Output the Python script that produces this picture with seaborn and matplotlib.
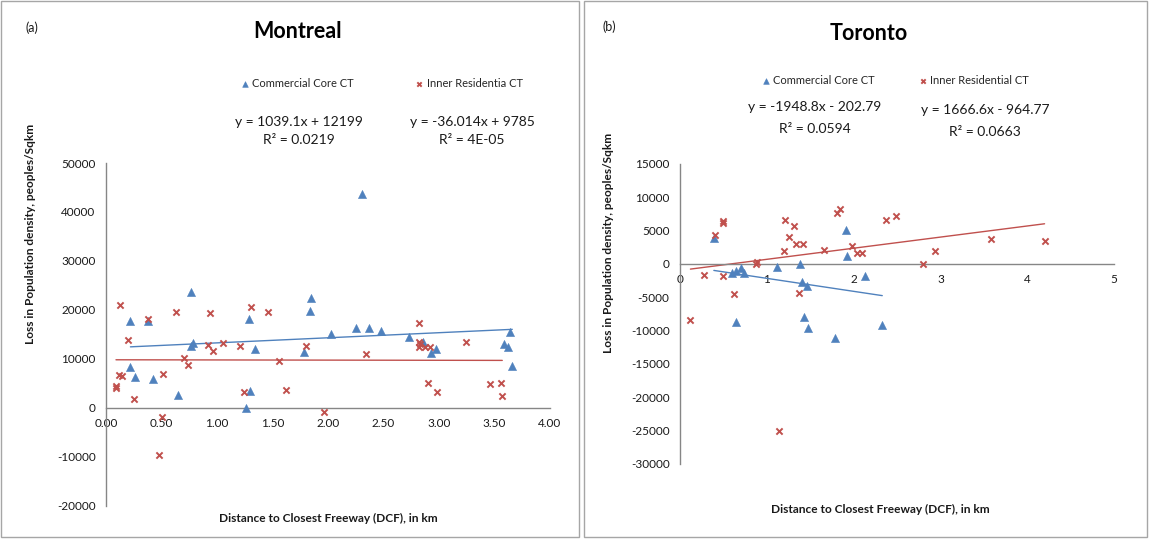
import numpy as np
import pandas as pd
import matplotlib
matplotlib.use("Agg")
import matplotlib.pyplot as plt
import seaborn as sns
from matplotlib.patches import Rectangle

# ---- Montreal: distance to closest freeway (km) vs loss in population density
mtl_cc_x = [0.22, 0.38, 0.77, 0.78, 0.77, 0.22, 0.26, 0.42, 0.65, 1.26, 1.30, 1.29, 1.34,
            1.85, 1.84, 2.03, 2.25, 2.37, 2.48, 1.78, 2.31, 2.73, 2.86, 2.93, 2.97,
            3.64, 3.59, 3.62, 3.66]
mtl_cc_y = [17700, 17700, 23600, 13300, 12700, 8400, 6300, 5900, 2600, 0, 3400, 18100, 12000,
            22400, 19800, 15100, 16200, 16200, 15600, 11400, 43700, 14500, 13400, 11200, 12000,
            15400, 13100, 12300, 8500]
mtl_ir_x = [0.13, 0.38, 0.63, 0.94, 0.20, 0.92, 0.96, 1.05, 1.21, 0.70, 0.74, 0.12, 0.14,
            0.51, 0.09, 0.09, 0.25, 0.50, 0.48, 1.24, 1.31, 1.46, 1.80, 2.34, 1.56, 1.62,
            1.96, 2.82, 2.82, 2.83, 2.82, 2.87, 2.92, 3.24, 2.90, 2.98, 3.46, 3.56, 3.57]
mtl_ir_y = [20900, 18200, 19600, 19400, 13800, 12900, 11500, 13300, 12600, 10100, 8800, 6700, 6500,
            6900, 4400, 4100, 1800, -2000, -9600, 3200, 20500, 19500, 12500, 10900, 9600, 3600,
            -900, 17300, 13400, 13000, 12300, 12400, 12300, 13400, 5100, 3200, 4800, 5100, 2400]

# ---- Toronto
tor_cc_x = [0.39, 0.60, 0.65, 0.70, 0.74, 1.12, 1.38, 1.41, 1.46, 1.91, 1.92, 2.13,
            0.64, 1.43, 1.48, 1.78, 2.33]
tor_cc_y = [3850, -1300, -1000, -600, -1300, -400, 0, -2700, -3350, 5050, 1150, -1850,
            -8750, -7900, -9600, -11150, -9100]
tor_ir_x = [0.40, 0.50, 0.50, 0.28, 0.49, 0.62, 0.12, 0.88, 0.89, 1.21, 1.31, 1.26, 1.20,
            1.34, 1.42, 1.37, 1.66, 1.81, 1.84, 1.98, 2.04, 2.10, 1.14, 2.37, 2.49, 2.80,
            2.94, 3.58, 4.20]
tor_ir_y = [4400, 6450, 6150, -1650, -1800, -4500, -8450, -50, 350, 6550, 5700, 4000, 1950,
            3000, 3000, -4350, 2150, 7700, 8250, 2650, 1700, 1700, -25100, 6650, 7200, 50,
            2000, 3700, 3500]

# linear trendline coefficients (slope, intercept) and R²
mtl_cc_fit = (1039.1, 12199, "0.0219")
mtl_ir_fit = (-36.014, 9785, "4E-05")
tor_cc_fit = (-1948.8, -202.79, "0.0594")
tor_ir_fit = (1666.6, -964.77, "0.0663")

mtl_ticks_x = [0, 0.5, 1, 1.5, 2, 2.5, 3, 3.5, 4]
mtl_ticks_y = [-20000, -10000, 0, 10000, 20000, 30000, 40000, 50000]
tor_ticks_x = [0, 1, 2, 3, 4, 5]
tor_ticks_y = [-30000, -25000, -20000, -15000, -10000, -5000, 0, 5000, 10000, 15000]

sns.set_style("white")
plt.rcParams['font.family'] = ['Lato', 'DejaVu Sans']

BLUE = '#4F81BD'
RED = '#C0504D'
AXC = '#868686'
TXT = '#1a1a1a'

W, H = 1149, 539
fig = plt.figure(figsize=(W / 100, H / 100), dpi=100)


def fx(px):
    return px / W


def fy(py):
    return 1 - py / H


# panel frames
for x0, x1 in [(1, 579), (584, 1147)]:
    fig.add_artist(Rectangle((fx(x0), fy(537)), fx(x1) - fx(x0), fy(1) - fy(537),
                             transform=fig.transFigure, fill=False,
                             edgecolor='#A6A6A6', linewidth=1.0))

ax1 = fig.add_axes([fx(106), fy(505.5), fx(550) - fx(106), fy(163) - fy(505.5)])
ax2 = fig.add_axes([fx(680), fy(464), fx(1114) - fx(680), fy(164) - fy(464)])


def draw_panel(ax, cc_x, cc_y, ir_x, ir_y, cc_fit, ir_fit, ir_label):
    sns.scatterplot(x=cc_x, y=cc_y, ax=ax, marker='^', color=BLUE, s=34,
                    edgecolor=BLUE, linewidth=0.4, label='Commercial Core CT', zorder=3)
    sns.scatterplot(x=ir_x, y=ir_y, ax=ax, marker='x', color=RED, s=20,
                    linewidth=1.4, label=ir_label, zorder=3)
    for xs, fit, col in [(cc_x, cc_fit, BLUE), (ir_x, ir_fit, RED)]:
        xr = np.array([min(xs), max(xs)])
        ax.plot(xr, fit[0] * xr + fit[1], color=col, linewidth=1.0, zorder=2)


def style_axes(ax, xlim, ylim, xticks, yticks, xfmt):
    ax.set_xlim(xlim)
    ax.set_ylim(ylim)
    ax.spines['top'].set_visible(False)
    ax.spines['right'].set_visible(False)
    ax.spines['left'].set_position(('data', 0))
    ax.spines['bottom'].set_position(('data', 0))
    for s in ('left', 'bottom'):
        ax.spines[s].set_color(AXC)
        ax.spines[s].set_linewidth(1.0)
    ax.set_xticks(xticks)
    ax.set_yticks(yticks)
    ax.set_xticklabels([xfmt(v) for v in xticks])
    ax.set_yticklabels([str(v) for v in yticks])
    ax.tick_params(axis='both', colors=AXC, labelcolor=TXT, labelsize=8.5,
                   length=4, width=1, direction='out')
    ax.set_xlabel('')
    ax.set_ylabel('')
    ax.patch.set_alpha(0)


draw_panel(ax1, mtl_cc_x, mtl_cc_y, mtl_ir_x, mtl_ir_y, mtl_cc_fit, mtl_ir_fit,
           'Inner Residentia CT')
draw_panel(ax2, tor_cc_x, tor_cc_y, tor_ir_x, tor_ir_y, tor_cc_fit, tor_ir_fit,
           'Inner Residential CT')

style_axes(ax1, (0, 4), (-20000, 50000), mtl_ticks_x, mtl_ticks_y, lambda v: f"{v:.2f}")
style_axes(ax2, (0, 5), (-30000, 15000), tor_ticks_x, tor_ticks_y, lambda v: f"{v:g}")

# legends
ax1.legend(loc='center', bbox_to_anchor=(0.622, (505.5 - 83) / 342.5), ncol=2,
           frameon=False, fontsize=8, handlelength=0.6, handletextpad=0.35,
           columnspacing=5.6, markerscale=0.7, borderaxespad=0)
ax2.legend(loc='center', bbox_to_anchor=(0.497, (464 - 80.5) / 300), ncol=2,
           frameon=False, fontsize=8, handlelength=0.6, handletextpad=0.35,
           columnspacing=4.0, markerscale=0.7, borderaxespad=0)


def eq_lines(fit):
    s, b, r2 = fit
    sign = '+' if b >= 0 else '-'
    return f"y = {s:g}x {sign} {abs(b):g}", f"R² = {r2}"


# trendline equations: (centre x, equation y, R² y)
for (x, y_eq, y_r2, fit) in [(299, 122, 140, mtl_cc_fit), (472, 122, 140, mtl_ir_fit),
                             (815, 107, 129, tor_cc_fit), (985, 110, 132, tor_ir_fit)]:
    eq, r2 = eq_lines(fit)
    fig.text(fx(x), fy(y_eq), eq, ha='center', va='center', fontsize=10, color=TXT)
    fig.text(fx(x), fy(y_r2), r2, ha='center', va='center', fontsize=10, color=TXT)

# titles and panel tags
fig.text(fx(298), fy(31), 'Montreal', ha='center', va='center', fontsize=15.5,
         fontweight='bold', color='black')
fig.text(fx(869), fy(33), 'Toronto', ha='center', va='center', fontsize=15.5,
         fontweight='bold', color='black')
fig.text(fx(32), fy(28), '(a)', ha='center', va='center', fontsize=9, color=TXT)
fig.text(fx(609), fy(27), '(b)', ha='center', va='center', fontsize=9, color=TXT)

# axis titles
ylab = 'Loss in Population density, peoples/Sqkm'
xlab = 'Distance to Closest Freeway (DCF), in km'
fig.text(fx(31), fy(234), ylab, rotation=90, ha='center', va='center', fontsize=8.6,
         fontweight='bold', color=TXT)
fig.text(fx(608), fy(243), ylab, rotation=90, ha='center', va='center', fontsize=8.6,
         fontweight='bold', color=TXT)
fig.text(fx(328), fy(518), xlab, ha='center', va='center', fontsize=8.6,
         fontweight='bold', color=TXT)
fig.text(fx(880), fy(509), xlab, ha='center', va='center', fontsize=8.6,
         fontweight='bold', color=TXT)

fig.savefig('out.png', dpi=100)
